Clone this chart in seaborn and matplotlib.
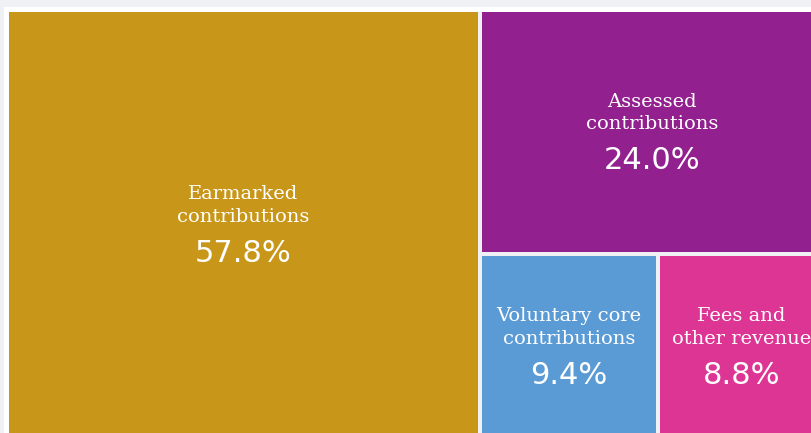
import matplotlib
matplotlib.use("Agg")
import seaborn as sns
from matplotlib import pyplot as plt
from matplotlib.patches import Rectangle

sns.set_style("white")

# data
labels = ["Earmarked\ncontributions", "Assessed\ncontributions",
          "Voluntary core\ncontributions", "Fees and\nother revenue"]
shares = [57.8, 24.0, 9.4, 8.8]
colors = sns.color_palette(["#c89619", "#92208f", "#5b9bd5", "#dd3594"])

W, H = 818, 429  # treemap box in px
GAP = 4


def layout(values, x, y, w, h):
    # split off first item along the longer side, recurse on the rest
    if len(values) == 1:
        return [(x, y, w, h)]
    frac = values[0] / sum(values)
    if w >= h:
        first = (x, y, w * frac, h)
        rest = layout(values[1:], x + w * frac, y, w * (1 - frac), h)
    else:
        first = (x, y, w, h * frac)
        rest = layout(values[1:], x, y + h * frac, w, h * (1 - frac))
    return [first] + rest


fig = plt.figure(figsize=(8.11, 4.33), dpi=100)
fig.patch.set_facecolor("#eff1f4")
fig.patch.set_edgecolor("none")
# white card behind the treemap (only its left and top margins show)
fig.patches.append(Rectangle((4 / 811, 0), 5 / 811, (433 - 7) / 433, transform=fig.transFigure,
                             facecolor="white", edgecolor="none", zorder=-1))
fig.patches.append(Rectangle((4 / 811, (433 - 12) / 433), 1, 5 / 433, transform=fig.transFigure,
                             facecolor="white", edgecolor="none", zorder=-1))

ax = fig.add_axes([7 / 811, 1 - (10 + H) / 433, W / 811, H / 433])
ax.set_zorder(2)
ax.patch.set_alpha(0)
ax.set_xlim(0, W)
ax.set_ylim(H, 0)
ax.axis("off")

for (x, y, w, h), lab, v, c in zip(layout(shares, 0, 0, W, H), labels, shares, colors):
    ax.add_patch(Rectangle((x + GAP / 2, y + GAP / 2), w - GAP, h - GAP, facecolor=c,
                           edgecolor="none", linewidth=0, clip_on=False))
    cx, cy = x + w / 2, y + h / 2
    ax.text(cx, cy - 19, lab, ha="center", va="center", color="white",
            fontsize=14, family="DejaVu Serif", linespacing=1.3)
    ax.text(cx, cy + 29, f"{v:.1f}%", ha="center", va="center", color="white",
            fontsize=22, family="DejaVu Sans")

fig.savefig("out.png", dpi=100, facecolor=fig.get_facecolor(), edgecolor="none")
